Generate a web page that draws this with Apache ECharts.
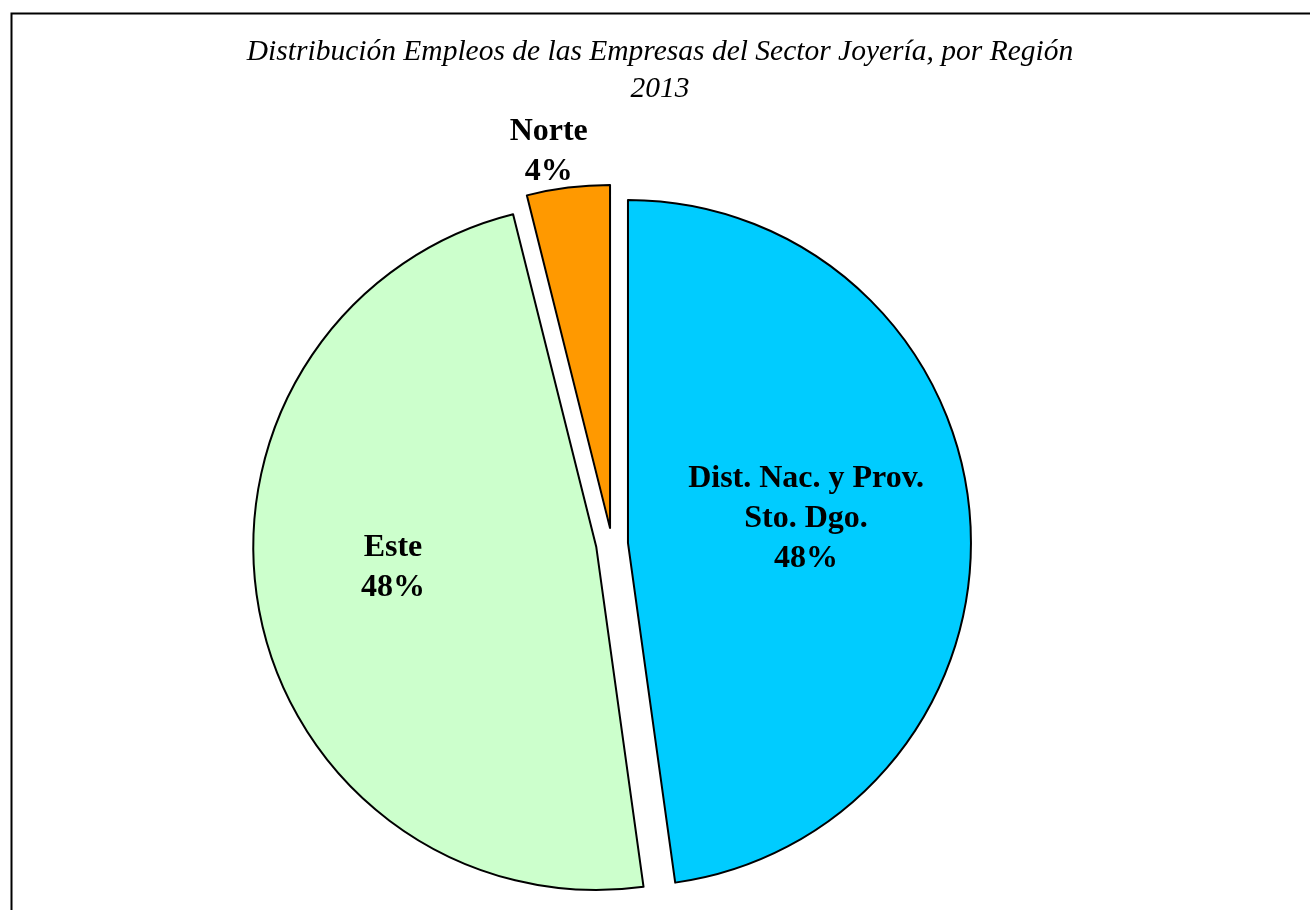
<!DOCTYPE html>
<html>
<head>
<meta charset="utf-8">
<script src="https://cdn.jsdelivr.net/npm/echarts@6/dist/echarts.min.js"></script>
<style>
html,body{margin:0;padding:0;background:#fff;}
#chart{width:1310px;height:910px;}
</style>
</head>
<body>
<div id="chart"></div>
<script>
const titleLines = ['Distribución Empleos de las Empresas del Sector Joyería, por Región', '2013'];
const categories = ['Dist. Nac. y Prov.\nSto. Dgo.', 'Este', 'Norte'];
const values = [47.8, 48.3, 3.9];
const colors = ['#00CCFF', '#CCFFCC', '#FF9900'];
const labelShifts = [[4, -12], [-32, -13], [-40, -203]];

const chart = echarts.init(document.getElementById('chart'), null, {renderer: 'canvas'});
const data = categories.map((c, i) => ({
  name: c,
  value: values[i],
  selected: true,
  itemStyle: {color: colors[i]}
}));

chart.setOption({
  animation: false,
  backgroundColor: '#ffffff',
  title: {
    text: titleLines.join('\n'),
    left: 660,
    textAlign: 'center',
    top: 34,
    padding: 0,
    textStyle: {
      fontFamily: 'Liberation Serif',
      fontStyle: 'italic',
      fontWeight: 'normal',
      fontSize: 29.5,
      lineHeight: 37,
      color: '#000'
    }
  },
  graphic: [{
    type: 'rect',
    left: 9, top: 11,
    shape: {width: 1330, height: 930},
    style: {fill: 'none', stroke: '#000', lineWidth: 2},
    silent: true
  }],
  series: [{
    type: 'pie',
    center: [612, 544],
    radius: 343,
    startAngle: 90,
    clockwise: true,
    selectedMode: 'multiple',
    selectedOffset: 16,
    avoidLabelOverlap: false,
    data: data,
    itemStyle: {borderColor: '#000', borderWidth: 2},
    emphasis: {disabled: true},
    labelLine: {show: false},
    label: {
      position: 'inside',
      fontFamily: 'Liberation Serif',
      fontWeight: 'bold',
      fontSize: 32,
      lineHeight: 40,
      color: '#000',
      align: 'center',
      formatter: p => p.name + '\n' + Math.round(p.percent) + '%'
    },
    labelLayout: p => {
      const s = labelShifts[p.dataIndex];
      return {dx: s[0], dy: s[1]};
    }
  }]
});
</script>
</body>
</html>
